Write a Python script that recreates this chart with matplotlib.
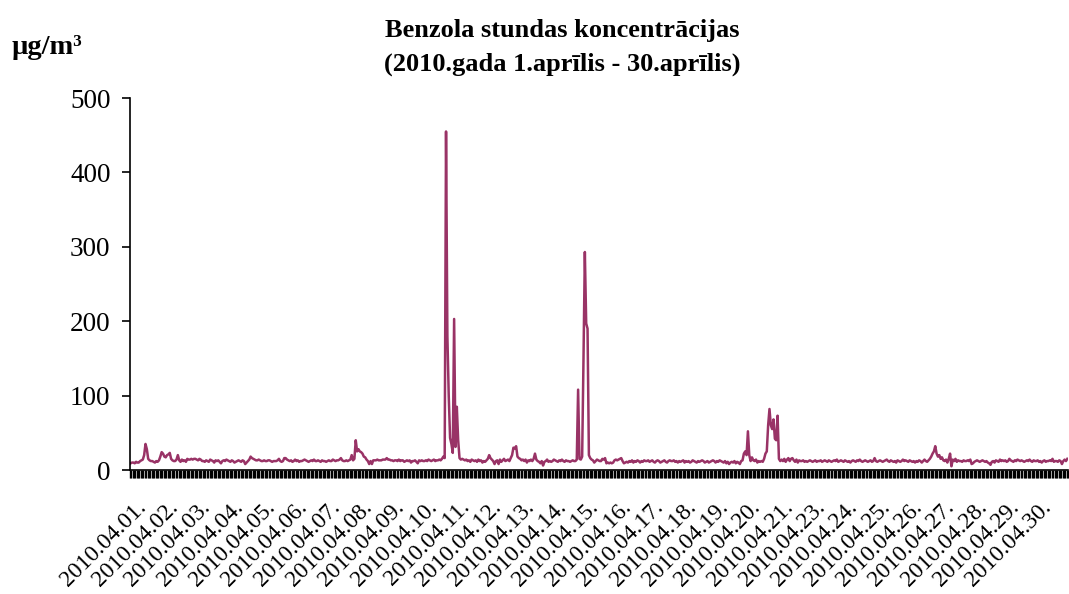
import numpy as np
import matplotlib
matplotlib.use("Agg")
import matplotlib.pyplot as plt
from matplotlib.ticker import FixedLocator
from matplotlib.transforms import ScaledTranslation

plt.rcParams["font.family"] = ["Liberation Serif", "DejaVu Serif"]

LINE_COLOR = "#993366"

day_labels = ["2010.04.01.", "2010.04.02.", "2010.04.03.", "2010.04.04.", "2010.04.05.",
              "2010.04.06.", "2010.04.07.", "2010.04.08.", "2010.04.09.", "2010.04.10.",
              "2010.04.11.", "2010.04.12.", "2010.04.13.", "2010.04.14.", "2010.04.15.",
              "2010.04.16.", "2010.04.17.", "2010.04.18.", "2010.04.19.", "2010.04.20.",
              "2010.04.21.", "2010.04.23.", "2010.04.24.", "2010.04.25.", "2010.04.26.",
              "2010.04.27.", "2010.04.28.", "2010.04.29.", "2010.04.30."]

# hourly benzene, ug/m3 (24 values per day, 22nd missing)
d01 = [9, 10, 10, 9, 11, 10, 10, 12, 13, 14, 20, 35, 28, 15, 13, 12, 12, 11, 10, 12, 11, 13, 18, 24]
d02 = [22, 18, 17, 20, 21, 23, 15, 13, 12, 12, 14, 20, 13, 11, 14, 12, 13, 11, 15, 14, 14, 15, 14, 15]
d03 = [15, 14, 13, 15, 14, 12, 12, 11, 13, 12, 11, 14, 13, 12, 10, 13, 12, 13, 11, 9, 12, 13, 12, 14]
d04 = [13, 12, 11, 13, 12, 10, 11, 12, 13, 12, 11, 13, 12, 8, 10, 12, 14, 18, 16, 15, 14, 13, 13, 14]
d05 = [13, 12, 12, 13, 12, 12, 13, 13, 12, 11, 12, 12, 12, 13, 15, 12, 11, 12, 16, 16, 14, 13, 12, 13]
d06 = [11, 12, 14, 12, 13, 11, 12, 12, 13, 14, 13, 12, 11, 12, 13, 12, 14, 12, 12, 13, 12, 11, 13, 12]
d07 = [12, 11, 12, 13, 12, 12, 14, 13, 12, 13, 13, 14, 16, 13, 12, 12, 13, 12, 13, 14, 20, 13, 15, 40]
d08 = [25, 28, 25, 24, 22, 18, 17, 14, 12, 8, 12, 8, 13, 13, 13, 14, 13, 13, 13, 14, 14, 14, 16, 14]
d09 = [14, 13, 13, 12, 13, 13, 12, 14, 12, 13, 13, 11, 12, 13, 12, 13, 10, 12, 12, 13, 11, 9, 13, 12]
d10 = [13, 12, 12, 13, 12, 14, 13, 12, 13, 14, 12, 13, 13, 14, 13, 15, 18, 16, 455, 180, 100, 43, 35, 23]
d11 = [203, 31, 85, 40, 16, 14, 15, 14, 13, 14, 12, 13, 11, 14, 13, 12, 13, 11, 14, 12, 13, 10, 12, 11]
d12 = [13, 15, 20, 16, 14, 12, 8, 12, 13, 8, 14, 11, 13, 15, 12, 13, 14, 12, 16, 20, 30, 29, 32, 18]
d13 = [16, 15, 13, 14, 12, 14, 10, 13, 12, 14, 12, 15, 22, 14, 12, 11, 9, 12, 6, 11, 12, 14, 11, 12]
d14 = [11, 12, 14, 13, 12, 11, 13, 12, 14, 12, 11, 13, 12, 12, 11, 12, 13, 12, 12, 14, 108, 15, 14, 18]
d15 = [150, 293, 197, 190, 20, 16, 14, 13, 10, 12, 14, 13, 12, 12, 15, 14, 16, 9, 10, 9, 10, 9, 10, 13]
d16 = [14, 13, 14, 15, 16, 12, 9, 10, 11, 10, 12, 11, 13, 10, 12, 11, 13, 12, 10, 12, 11, 13, 12, 12]
d17 = [13, 11, 12, 13, 11, 10, 12, 13, 12, 10, 11, 12, 13, 11, 10, 12, 13, 12, 12, 13, 11, 12, 10, 12]
d18 = [11, 12, 13, 10, 12, 11, 12, 10, 11, 13, 12, 11, 10, 12, 11, 12, 13, 12, 10, 11, 12, 10, 11, 12]
d19 = [13, 12, 10, 12, 11, 13, 12, 11, 10, 12, 9, 11, 8, 10, 11, 10, 12, 9, 11, 10, 8, 12, 13, 22]
d20 = [25, 20, 52, 20, 12, 17, 13, 12, 14, 10, 12, 11, 12, 11, 15, 22, 25, 60, 82, 60, 55, 68, 42, 40]
d21 = [73, 15, 12, 14, 12, 15, 11, 14, 16, 12, 15, 16, 13, 11, 14, 10, 13, 12, 12, 13, 11, 12, 11, 12]
d23 = [13, 12, 11, 12, 13, 11, 12, 12, 13, 11, 12, 13, 12, 11, 13, 12, 11, 12, 13, 12, 14, 11, 12, 13]
d24 = [12, 11, 13, 12, 11, 12, 10, 12, 13, 12, 11, 13, 12, 14, 12, 11, 12, 13, 12, 11, 12, 13, 11, 12]
d25 = [16, 12, 11, 12, 13, 12, 11, 12, 13, 14, 12, 11, 13, 12, 11, 12, 10, 13, 12, 11, 12, 14, 12, 13]
d26 = [12, 11, 13, 12, 11, 12, 10, 12, 11, 13, 12, 10, 12, 14, 12, 11, 13, 15, 18, 22, 25, 32, 22, 18]
d27 = [20, 15, 17, 13, 12, 14, 10, 15, 22, 5, 14, 12, 15, 11, 13, 12, 12, 11, 13, 12, 12, 13, 12, 14]
d28 = [8, 9, 11, 12, 13, 12, 11, 12, 13, 12, 11, 12, 10, 9, 7, 11, 12, 10, 13, 12, 11, 14, 12, 13]
d29 = [12, 13, 11, 12, 15, 13, 12, 11, 13, 12, 14, 13, 12, 13, 12, 11, 12, 13, 12, 14, 12, 11, 13, 12]
d30 = [12, 13, 11, 12, 10, 12, 13, 11, 12, 12, 13, 12, 15, 11, 12, 12, 11, 13, 12, 8, 12, 14, 12, 15]

days = [d01, d02, d03, d04, d05, d06, d07, d08, d09, d10, d11, d12, d13, d14, d15,
        d16, d17, d18, d19, d20, d21, d23, d24, d25, d26, d27, d28, d29, d30]
values = np.concatenate([np.asarray(d, dtype=float) for d in days])
n = len(values)
hours = np.arange(n)

fig = plt.figure(figsize=(10.69, 5.94), dpi=100)
ax = fig.add_axes([130 / 1069, 1 - 470 / 594, 938 / 1069, 372 / 594])

ax.plot(hours, values, color=LINE_COLOR, linewidth=1.8)

ax.set_xlim(-0.5, n - 0.5)
ax.set_ylim(0, 500)
ax.set_yticks(np.arange(0, 501, 100))
ax.tick_params(axis="y", direction="out", length=6, width=1.2, labelsize=19.5, pad=8)

ax.xaxis.set_major_locator(FixedLocator(np.arange(0, n, 24)))
ax.set_xticklabels(day_labels, rotation=45, ha="right", va="top", fontsize=17)
ax.xaxis.set_minor_locator(FixedLocator(np.arange(n + 1) - 0.5))
ax.tick_params(axis="x", which="major", length=0, pad=2)
ax.tick_params(axis="x", which="minor", direction="out", length=6, width=1.0, color="black")
offset = ScaledTranslation(14 / 72, -17 / 72, fig.dpi_scale_trans)
for lbl in ax.get_xticklabels():
    lbl.set_transform(lbl.get_transform() + offset)

for side in ["top", "right"]:
    ax.spines[side].set_visible(False)
ax.spines["left"].set_linewidth(1.2)
ax.spines["bottom"].set_linewidth(1.2)

fig.text(562 / 1069, 1 - 31 / 594, "Benzola stundas koncentrācijas", ha="center", va="center",
         fontsize=19, fontweight="bold")
fig.text(562 / 1069, 1 - 64 / 594, "(2010.gada 1.aprīlis - 30.aprīlis)", ha="center", va="center",
         fontsize=19, fontweight="bold")
fig.text(12 / 1069, 1 - 47 / 594, "µg/m³", ha="left", va="center", fontsize=20.5, fontweight="bold")

fig.savefig("out.png", dpi=100)
